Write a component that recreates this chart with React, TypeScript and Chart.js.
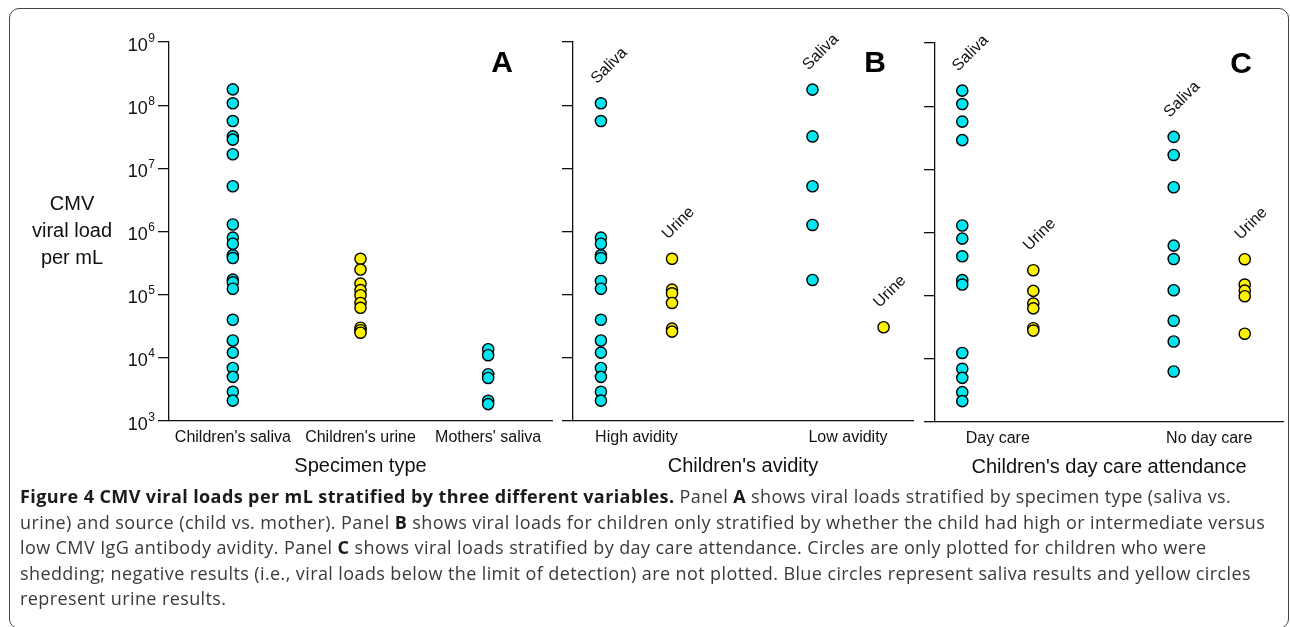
import React, { useEffect, useRef } from 'react';
import { Chart, registerables } from 'chart.js';
Chart.register(...registerables);

const W = 1290;
const H = 627;
const SANS = "'Liberation Sans', Arial, Helvetica, sans-serif";

// ---------- Panel A: specimen type ----------
const specimenCategories = ["Children's saliva", "Children's urine", "Mothers' saliva"];
const childrenSaliva = [1.78e8, 1.07e8, 5.6e7, 3.2e7, 2.85e7, 1.67e7, 5.2e6, 1.29e6, 8.0e5, 6.4e5, 4.2e5, 3.8e5, 1.73e5, 1.57e5, 1.24e5, 4.0e4, 1.88e4, 1.21e4, 6.9e3, 5.0e3, 2.9e3, 2.1e3];
const childrenUrine = [3.7e5, 2.5e5, 1.5e5, 1.18e5, 9.8e4, 7.4e4, 6.2e4, 3.0e4, 2.74e4, 2.5e4];
const mothersSaliva = [1.37e4, 1.1e4, 5.5e3, 4.8e3, 2.09e3, 1.85e3];

// ---------- Panel B: children's avidity ----------
const avidityCategories = ['High avidity', 'Low avidity'];
const highAviditySaliva = [1.07e8, 5.6e7, 8.0e5, 6.4e5, 4.2e5, 3.8e5, 1.65e5, 1.24e5, 4.0e4, 1.88e4, 1.21e4, 6.9e3, 5.0e3, 2.9e3, 2.1e3];
const highAvidityUrine = [3.7e5, 1.2e5, 1.05e5, 7.4e4, 2.9e4, 2.6e4];
const lowAviditySaliva = [1.76e8, 3.2e7, 5.2e6, 1.27e6, 1.71e5];
const lowAvidityUrine = [3.05e4];

// ---------- Panel C: day care attendance ----------
const dayCareCategories = ['Day care', 'No day care'];
const dayCareSaliva = [1.76e8, 1.08e8, 5.7e7, 2.9e7, 1.29e6, 8.0e5, 4.2e5, 1.76e5, 1.5e5, 1.24e4, 6.95e3, 5.0e3, 2.97e3, 2.14e3];
const dayCareUrine = [2.53e5, 1.19e5, 7.5e4, 6.3e4, 3.05e4, 2.8e4];
const noDayCareSaliva = [3.26e7, 1.69e7, 5.2e6, 6.2e5, 3.8e5, 1.22e5, 4.0e4, 1.88e4, 6.3e3];
const noDayCareUrine = [3.78e5, 1.5e5, 1.2e5, 9.8e4, 2.5e4];

const yTickExponents = [3, 4, 5, 6, 7, 8, 9];
const yTitleLines = ['CMV', 'viral load', 'per mL'];
const sampleLabels = { saliva: 'Saliva', urine: 'Urine' };

const SALIVA_COLOR = '#00E5EE';
const URINE_COLOR = '#FFF200';
const GROUP_SHIFT = 0.168;
const INK = '#111';

function pts(values: number[], x: number) {
  return values.map((v) => ({ x, y: v }));
}

function ds(values: number[], x: number, color: string, groupLabel?: string) {
  return {
    data: pts(values, x),
    backgroundColor: color,
    borderColor: '#000',
    borderWidth: 1.4,
    pointRadius: 5.6,
    pointHoverRadius: 5.6,
    showLine: false,
    groupLabel,
  } as any;
}

const decoPlugin = {
  id: 'deco',
  afterDraw(chart: any, _args: any, opts: any) {
    const { ctx, chartArea, scales } = chart;
    ctx.save();
    // panel letter
    ctx.fillStyle = '#000';
    ctx.font = `bold 30px ${SANS}`;
    ctx.textAlign = 'center';
    ctx.textBaseline = 'middle';
    ctx.fillText(opts.letter, chartArea.right - opts.letterInset, chartArea.top + 22);

    // rotated group labels above the top point of each group
    chart.data.datasets.forEach((d: any, i: number) => {
      if (!d.groupLabel) return;
      const meta = chart.getDatasetMeta(i);
      let top: any = null;
      meta.data.forEach((el: any) => {
        if (!top || el.y < top.y) top = el;
      });
      if (!top) return;
      ctx.save();
      ctx.translate(top.x - 4, top.y - 19);
      ctx.rotate(-Math.PI / 4);
      ctx.font = `16px ${SANS}`;
      ctx.fillStyle = INK;
      ctx.textAlign = 'left';
      ctx.textBaseline = 'alphabetic';
      ctx.fillText(d.groupLabel, 0, 0);
      ctx.restore();
    });

    if (opts.yLabels) {
      const y = scales.y;
      yTickExponents.forEach((e) => {
        const py = y.getPixelForValue(Math.pow(10, e));
        const right = chartArea.left - 14;
        ctx.fillStyle = INK;
        ctx.textAlign = 'right';
        ctx.textBaseline = 'alphabetic';
        ctx.font = `12px ${SANS}`;
        const ew = ctx.measureText(String(e)).width;
        ctx.fillText(String(e), right, py - 0.5);
        ctx.font = `18px ${SANS}`;
        ctx.fillText('10', right - ew - 0.5, py + 8.5);
      });
      ctx.font = `20px ${SANS}`;
      ctx.textAlign = 'center';
      ctx.textBaseline = 'middle';
      yTitleLines.forEach((line, k) => ctx.fillText(line, 72, 204 + k * 27));
    }
    ctx.restore();
  },
};

function makeConfig(cfg: any) {
  return {
    type: 'scatter',
    data: { datasets: cfg.datasets },
    plugins: [decoPlugin],
    options: {
      responsive: false,
      animation: false,
      devicePixelRatio: 1,
      events: [],
      layout: { padding: cfg.padding },
      plugins: {
        legend: { display: false },
        tooltip: { enabled: false },
        deco: cfg.deco,
      },
      scales: {
        x: {
          type: 'linear',
          min: cfg.xMin,
          max: cfg.xMax,
          afterBuildTicks: (axis: any) => {
            axis.ticks = cfg.categories.map((_: string, i: number) => ({ value: i + 1 }));
          },
          afterFit: (axis: any) => {
            axis.height = 60;
          },
          grid: { display: false, drawTicks: false },
          border: { display: true, color: INK, width: 1.3 },
          ticks: {
            autoSkip: false,
            maxRotation: 0,
            minRotation: 0,
            padding: 7,
            color: INK,
            font: { family: SANS, size: 16 },
            callback: (v: number) => cfg.categories[Math.round(v) - 1] ?? '',
          },
          title: {
            display: true,
            text: cfg.title,
            color: INK,
            font: { family: SANS, size: 20 },
            padding: { top: 0, bottom: 3 },
          },
        },
        y: {
          type: 'logarithmic',
          min: 1e3,
          max: 1e9,
          afterBuildTicks: (axis: any) => {
            axis.ticks = yTickExponents.map((e) => ({ value: Math.pow(10, e) }));
          },
          afterFit: (axis: any) => {
            axis.width = 11;
          },
          grid: { display: true, drawOnChartArea: false, drawTicks: true, tickLength: 11, color: INK, lineWidth: 1.3 },
          border: { display: true, color: INK, width: 1.3 },
          ticks: { display: false },
        },
      },
    },
  } as any;
}

const panelA = () =>
  makeConfig({
    categories: specimenCategories,
    title: 'Specimen type',
    xMin: 0.5,
    xMax: 3.5,
    padding: { left: 158, right: W - 552, top: 42, bottom: 146 },
    deco: { letter: 'A', letterInset: 50, yLabels: true },
    datasets: [
      ds(childrenSaliva, 1, SALIVA_COLOR),
      ds(childrenUrine, 2, URINE_COLOR),
      ds(mothersSaliva, 3, SALIVA_COLOR),
    ],
  });

const panelB = () =>
  makeConfig({
    categories: avidityCategories,
    title: "Children's avidity",
    xMin: 0.7,
    xMax: 2.307,
    padding: { left: 562, right: W - 913, top: 42, bottom: 146 },
    deco: { letter: 'B', letterInset: 38, yLabels: false },
    datasets: [
      ds(highAviditySaliva, 1 - GROUP_SHIFT, SALIVA_COLOR, sampleLabels.saliva),
      ds(highAvidityUrine, 1 + GROUP_SHIFT, URINE_COLOR, sampleLabels.urine),
      ds(lowAviditySaliva, 2 - GROUP_SHIFT, SALIVA_COLOR, sampleLabels.saliva),
      ds(lowAvidityUrine, 2 + GROUP_SHIFT, URINE_COLOR, sampleLabels.urine),
    ],
  });

const panelC = () =>
  makeConfig({
    categories: dayCareCategories,
    title: "Children's day care attendance",
    xMin: 0.703,
    xMax: 2.349,
    padding: { left: 924, right: W - 1284, top: 43, bottom: 145 },
    deco: { letter: 'C', letterInset: 42, yLabels: false },
    datasets: [
      ds(dayCareSaliva, 1 - GROUP_SHIFT, SALIVA_COLOR, sampleLabels.saliva),
      ds(dayCareUrine, 1 + GROUP_SHIFT, URINE_COLOR, sampleLabels.urine),
      ds(noDayCareSaliva, 2 - GROUP_SHIFT, SALIVA_COLOR, sampleLabels.saliva),
      ds(noDayCareUrine, 2 + GROUP_SHIFT, URINE_COLOR, sampleLabels.urine),
    ],
  });

function Panel({ config }: { config: () => any }) {
  const ref = useRef<HTMLCanvasElement | null>(null);
  useEffect(() => {
    const chart = new Chart(ref.current as HTMLCanvasElement, config());
    return () => chart.destroy();
  }, [config]);
  return (
    <canvas
      ref={ref}
      width={W}
      height={H}
      style={{ position: 'absolute', left: 0, top: 0, width: W, height: H }}
    />
  );
}

const B = ({ children }: { children: React.ReactNode }) => (
  <span style={{ fontWeight: 700, color: '#1a1a1a' }}>{children}</span>
);

export default function App() {
  return (
    <div
      style={{
        position: 'fixed',
        left: 0,
        top: 0,
        width: W,
        height: H,
        background: '#fff',
        overflow: 'hidden',
      }}
    >
      <div
        style={{
          position: 'absolute',
          left: 9,
          top: 8,
          width: 1280,
          height: 621,
          border: '1.5px solid #444',
          borderRadius: 10,
          boxSizing: 'border-box',
        }}
      />
      <Panel config={panelA} />
      <Panel config={panelB} />
      <Panel config={panelC} />
      <div
        style={{
          position: 'absolute',
          left: 20,
          top: 484,
          fontFamily: "'Open Sans', 'Noto Sans', sans-serif",
          fontSize: 18,
          letterSpacing: '0.4px',
          lineHeight: '25.5px',
          color: '#3a3a3a',
          whiteSpace: 'nowrap',
        }}
      >
        <div>
          <B>Figure 4 CMV viral loads per mL stratified by three different variables.</B> Panel <B>A</B> shows
          viral loads stratified by specimen type (saliva vs.
        </div>
        <div>
          urine) and source (child vs. mother). Panel <B>B</B> shows viral loads for children only stratified by
          whether the child had high or intermediate versus
        </div>
        <div>
          low CMV IgG antibody avidity. Panel <B>C</B> shows viral loads stratified by day care attendance. Circles
          are only plotted for children who were
        </div>
        <div>
          shedding; negative results (i.e., viral loads below the limit of detection) are not plotted. Blue circles
          represent saliva results and yellow circles
        </div>
        <div>represent urine results.</div>
      </div>
    </div>
  );
}
